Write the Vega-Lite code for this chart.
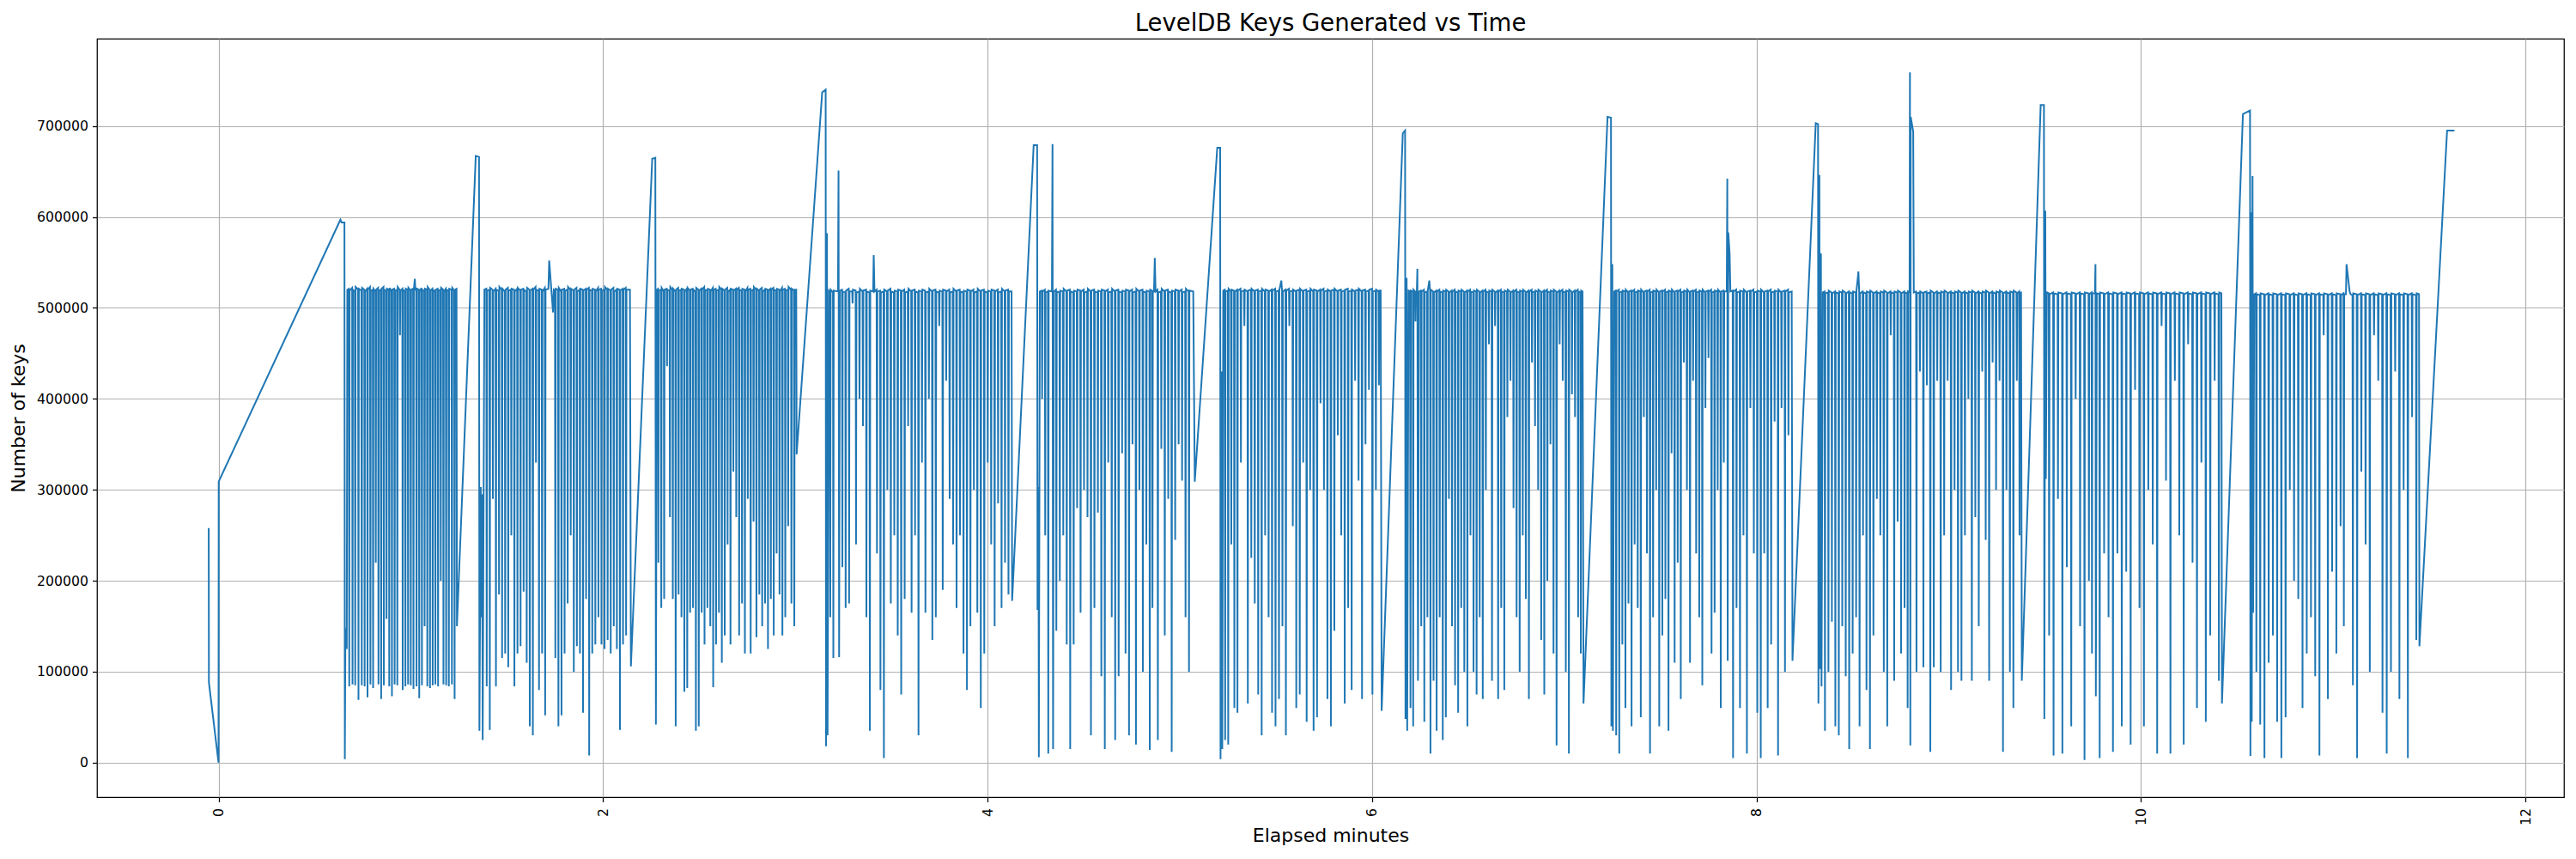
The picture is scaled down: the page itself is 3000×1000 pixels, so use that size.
{
"$schema": "https://vega.github.io/schema/vega-lite/v6.json",
"width": 2873, "height": 883,
"autosize": {"type": "none"},
"padding": {"left": 113, "top": 45, "right": 14, "bottom": 72},
"background": "white",
"title": {"text": "LevelDB Keys Generated vs Time", "font": "DejaVu Sans", "fontSize": 27.5, "fontWeight": "normal", "color": "black", "anchor": "middle", "baseline": "alphabetic", "offset": 9, "dy": 27},
"config": {
  "view": {"stroke": "black", "strokeWidth": 1.25},
  "axis": {"labelFont": "DejaVu Sans", "labelFontSize": 15.7, "labelColor": "black", "titleFont": "DejaVu Sans", "titleFontSize": 22, "titleFontWeight": "normal", "titleColor": "black", "tickColor": "black", "tickSize": 5.5, "tickWidth": 1.25, "domain": false, "grid": true, "gridColor": "#b0b0b0", "gridWidth": 1.2}
},
"data": {"values": [
{"t":-0.051,"k":258000},{"t":-0.050,"k":88000},{"t":0.000,"k":0},{"t":0.001,"k":309000},{"t":0.634,"k":597000},{"t":0.640,"k":594000},{"t":0.655,"k":594000},{"t":0.657,"k":4000},{"t":0.660,"k":148000},{"t":0.667,"k":125000},{"t":0.670,"k":520000},
{"t":0.678,"k":521000},{"t":0.680,"k":84000},{"t":0.682,"k":519000},
{"t":0.695,"k":522000},{"t":0.697,"k":86000},{"t":0.699,"k":520000},
{"t":0.709,"k":518000},{"t":0.711,"k":85000},{"t":0.713,"k":523000},
{"t":0.726,"k":520000},{"t":0.728,"k":69000},{"t":0.730,"k":521000},
{"t":0.743,"k":519000},{"t":0.745,"k":85000},{"t":0.747,"k":522000},
{"t":0.758,"k":520000},{"t":0.760,"k":84000},{"t":0.762,"k":518000},
{"t":0.773,"k":521000},{"t":0.775,"k":72000},{"t":0.777,"k":520000},
{"t":0.788,"k":523000},{"t":0.790,"k":86000},{"t":0.792,"k":519000},
{"t":0.802,"k":520000},{"t":0.804,"k":82000},{"t":0.806,"k":521000},
{"t":0.816,"k":518000},{"t":0.818,"k":220000},{"t":0.820,"k":520000},
{"t":0.830,"k":522000},{"t":0.832,"k":86000},{"t":0.834,"k":519000},
{"t":0.844,"k":520000},{"t":0.846,"k":70000},{"t":0.848,"k":521000},
{"t":0.858,"k":523000},{"t":0.860,"k":85000},{"t":0.862,"k":520000},
{"t":0.872,"k":519000},{"t":0.874,"k":158000},{"t":0.876,"k":521000},
{"t":0.886,"k":520000},{"t":0.888,"k":84000},{"t":0.890,"k":522000},
{"t":0.900,"k":518000},{"t":0.902,"k":73000},{"t":0.904,"k":520000},
{"t":0.914,"k":521000},{"t":0.916,"k":86000},{"t":0.918,"k":519000},
{"t":0.928,"k":520000},{"t":0.930,"k":85000},{"t":0.932,"k":523000},
{"t":0.942,"k":520000},{"t":0.944,"k":470000},{"t":0.946,"k":519000},
{"t":0.956,"k":521000},{"t":0.958,"k":80000},{"t":0.960,"k":520000},
{"t":0.970,"k":518000},{"t":0.972,"k":84000},{"t":0.974,"k":521000},
{"t":0.984,"k":520000},{"t":0.986,"k":86000},{"t":0.988,"k":522000},
{"t":0.998,"k":519000},{"t":1.000,"k":85000},{"t":1.002,"k":520000},
{"t":1.012,"k":521000},{"t":1.014,"k":81000},{"t":1.016,"k":520000},
{"t":1.021,"k":532000},{"t":1.024,"k":520000},
{"t":1.028,"k":519000},{"t":1.030,"k":84000},{"t":1.032,"k":521000},
{"t":1.042,"k":520000},{"t":1.044,"k":71000},{"t":1.046,"k":518000},
{"t":1.056,"k":522000},{"t":1.058,"k":85000},{"t":1.060,"k":520000},
{"t":1.070,"k":519000},{"t":1.072,"k":150000},{"t":1.074,"k":521000},
{"t":1.084,"k":520000},{"t":1.086,"k":84000},{"t":1.088,"k":523000},
{"t":1.098,"k":520000},{"t":1.100,"k":82000},{"t":1.102,"k":519000},
{"t":1.112,"k":521000},{"t":1.114,"k":85000},{"t":1.116,"k":520000},
{"t":1.126,"k":518000},{"t":1.128,"k":86000},{"t":1.130,"k":520000},
{"t":1.140,"k":521000},{"t":1.142,"k":84000},{"t":1.144,"k":519000},
{"t":1.154,"k":520000},{"t":1.156,"k":200000},{"t":1.158,"k":522000},
{"t":1.168,"k":520000},{"t":1.170,"k":86000},{"t":1.172,"k":518000},
{"t":1.182,"k":521000},{"t":1.184,"k":85000},{"t":1.186,"k":520000},
{"t":1.196,"k":519000},{"t":1.198,"k":84000},{"t":1.200,"k":521000},
{"t":1.212,"k":520000},{"t":1.214,"k":86000},{"t":1.216,"k":522000},
{"t":1.226,"k":519000},{"t":1.228,"k":70000},{"t":1.230,"k":520000},
{"t":1.238,"k":521000},{"t":1.240,"k":150000},{"t":1.338,"k":667000},{"t":1.355,"k":666000},{"t":1.357,"k":35000},{"t":1.364,"k":303000},{"t":1.366,"k":160000},{"t":1.371,"k":295000},{"t":1.374,"k":25000},{"t":1.383,"k":520000},
{"t":1.393,"k":521000},{"t":1.395,"k":84000},{"t":1.397,"k":519000},
{"t":1.409,"k":520000},{"t":1.411,"k":36000},{"t":1.413,"k":522000},
{"t":1.425,"k":520000},{"t":1.427,"k":290000},{"t":1.429,"k":518000},
{"t":1.441,"k":521000},{"t":1.443,"k":84000},{"t":1.445,"k":520000},
{"t":1.457,"k":519000},{"t":1.459,"k":185000},{"t":1.461,"k":523000},
{"t":1.473,"k":520000},{"t":1.475,"k":115000},{"t":1.477,"k":521000},
{"t":1.489,"k":518000},{"t":1.491,"k":120000},{"t":1.493,"k":520000},
{"t":1.505,"k":522000},{"t":1.507,"k":105000},{"t":1.509,"k":519000},
{"t":1.521,"k":520000},{"t":1.523,"k":250000},{"t":1.525,"k":521000},
{"t":1.537,"k":520000},{"t":1.539,"k":84000},{"t":1.541,"k":518000},
{"t":1.553,"k":521000},{"t":1.555,"k":120000},{"t":1.557,"k":522000},
{"t":1.569,"k":519000},{"t":1.571,"k":128000},{"t":1.573,"k":520000},
{"t":1.585,"k":521000},{"t":1.587,"k":188000},{"t":1.589,"k":520000},
{"t":1.601,"k":518000},{"t":1.603,"k":110000},{"t":1.605,"k":522000},
{"t":1.617,"k":520000},{"t":1.619,"k":40000},{"t":1.621,"k":519000},
{"t":1.633,"k":521000},{"t":1.635,"k":30000},{"t":1.637,"k":520000},
{"t":1.649,"k":523000},{"t":1.651,"k":330000},{"t":1.653,"k":520000},
{"t":1.665,"k":519000},{"t":1.667,"k":80000},{"t":1.669,"k":521000},
{"t":1.681,"k":520000},{"t":1.683,"k":120000},{"t":1.685,"k":518000},
{"t":1.697,"k":522000},{"t":1.699,"k":52000},{"t":1.701,"k":520000},
{"t":1.716,"k":521000},{"t":1.720,"k":552000},{"t":1.740,"k":495000},{"t":1.744,"k":520000},
{"t":1.750,"k":519000},{"t":1.752,"k":115000},{"t":1.754,"k":521000},
{"t":1.766,"k":520000},{"t":1.768,"k":40000},{"t":1.770,"k":522000},
{"t":1.782,"k":518000},{"t":1.784,"k":52000},{"t":1.786,"k":520000},
{"t":1.798,"k":521000},{"t":1.800,"k":120000},{"t":1.802,"k":519000},
{"t":1.814,"k":520000},{"t":1.816,"k":175000},{"t":1.818,"k":523000},
{"t":1.830,"k":520000},{"t":1.832,"k":250000},{"t":1.834,"k":521000},
{"t":1.846,"k":519000},{"t":1.848,"k":100000},{"t":1.850,"k":520000},
{"t":1.862,"k":522000},{"t":1.864,"k":128000},{"t":1.866,"k":518000},
{"t":1.878,"k":520000},{"t":1.880,"k":120000},{"t":1.882,"k":521000},
{"t":1.894,"k":520000},{"t":1.896,"k":55000},{"t":1.898,"k":519000},
{"t":1.910,"k":521000},{"t":1.912,"k":180000},{"t":1.914,"k":520000},
{"t":1.926,"k":522000},{"t":1.928,"k":8000},{"t":1.930,"k":520000},
{"t":1.942,"k":519000},{"t":1.944,"k":120000},{"t":1.946,"k":521000},
{"t":1.958,"k":520000},{"t":1.960,"k":130000},{"t":1.962,"k":518000},
{"t":1.974,"k":522000},{"t":1.976,"k":160000},{"t":1.978,"k":520000},
{"t":1.990,"k":521000},{"t":1.992,"k":130000},{"t":1.994,"k":519000},
{"t":2.006,"k":520000},{"t":2.008,"k":125000},{"t":2.010,"k":523000},
{"t":2.022,"k":520000},{"t":2.024,"k":135000},{"t":2.026,"k":521000},
{"t":2.038,"k":519000},{"t":2.040,"k":120000},{"t":2.042,"k":520000},
{"t":2.054,"k":522000},{"t":2.056,"k":150000},{"t":2.058,"k":518000},
{"t":2.070,"k":520000},{"t":2.072,"k":125000},{"t":2.074,"k":521000},
{"t":2.086,"k":520000},{"t":2.088,"k":36000},{"t":2.090,"k":519000},
{"t":2.102,"k":521000},{"t":2.104,"k":130000},{"t":2.106,"k":520000},
{"t":2.118,"k":522000},{"t":2.120,"k":140000},{"t":2.122,"k":520000},
{"t":2.140,"k":520000},{"t":2.145,"k":106000},{"t":2.256,"k":664000},{"t":2.272,"k":665000},{"t":2.275,"k":42000},{"t":2.280,"k":520000},
{"t":2.286,"k":521000},{"t":2.288,"k":220000},{"t":2.290,"k":519000},
{"t":2.301,"k":520000},{"t":2.303,"k":170000},{"t":2.305,"k":522000},
{"t":2.316,"k":518000},{"t":2.318,"k":180000},{"t":2.320,"k":520000},
{"t":2.331,"k":521000},{"t":2.333,"k":436000},{"t":2.335,"k":520000},
{"t":2.346,"k":519000},{"t":2.348,"k":270000},{"t":2.350,"k":523000},
{"t":2.361,"k":520000},{"t":2.363,"k":180000},{"t":2.365,"k":521000},
{"t":2.376,"k":518000},{"t":2.378,"k":40000},{"t":2.380,"k":520000},
{"t":2.391,"k":522000},{"t":2.393,"k":185000},{"t":2.395,"k":519000},
{"t":2.406,"k":520000},{"t":2.408,"k":160000},{"t":2.410,"k":521000},
{"t":2.421,"k":520000},{"t":2.423,"k":78000},{"t":2.425,"k":518000},
{"t":2.436,"k":521000},{"t":2.438,"k":82000},{"t":2.440,"k":522000},
{"t":2.451,"k":519000},{"t":2.453,"k":165000},{"t":2.455,"k":520000},
{"t":2.466,"k":521000},{"t":2.468,"k":170000},{"t":2.470,"k":520000},
{"t":2.481,"k":518000},{"t":2.483,"k":35000},{"t":2.485,"k":522000},
{"t":2.496,"k":520000},{"t":2.498,"k":40000},{"t":2.500,"k":519000},
{"t":2.511,"k":521000},{"t":2.513,"k":165000},{"t":2.515,"k":520000},
{"t":2.526,"k":523000},{"t":2.528,"k":130000},{"t":2.530,"k":520000},
{"t":2.541,"k":519000},{"t":2.543,"k":170000},{"t":2.545,"k":521000},
{"t":2.556,"k":520000},{"t":2.558,"k":150000},{"t":2.560,"k":518000},
{"t":2.571,"k":522000},{"t":2.573,"k":83000},{"t":2.575,"k":520000},
{"t":2.586,"k":521000},{"t":2.588,"k":130000},{"t":2.590,"k":519000},
{"t":2.601,"k":520000},{"t":2.603,"k":165000},{"t":2.605,"k":523000},
{"t":2.616,"k":520000},{"t":2.618,"k":110000},{"t":2.620,"k":521000},
{"t":2.631,"k":519000},{"t":2.633,"k":140000},{"t":2.635,"k":520000},
{"t":2.646,"k":522000},{"t":2.648,"k":240000},{"t":2.650,"k":518000},
{"t":2.661,"k":520000},{"t":2.663,"k":130000},{"t":2.665,"k":521000},
{"t":2.676,"k":520000},{"t":2.678,"k":320000},{"t":2.680,"k":519000},
{"t":2.691,"k":521000},{"t":2.693,"k":270000},{"t":2.695,"k":520000},
{"t":2.706,"k":522000},{"t":2.708,"k":140000},{"t":2.710,"k":520000},
{"t":2.721,"k":519000},{"t":2.723,"k":175000},{"t":2.725,"k":521000},
{"t":2.736,"k":520000},{"t":2.738,"k":120000},{"t":2.740,"k":518000},
{"t":2.751,"k":522000},{"t":2.753,"k":290000},{"t":2.755,"k":520000},
{"t":2.766,"k":521000},{"t":2.768,"k":120000},{"t":2.770,"k":519000},
{"t":2.781,"k":520000},{"t":2.783,"k":265000},{"t":2.785,"k":523000},
{"t":2.796,"k":520000},{"t":2.798,"k":138000},{"t":2.800,"k":521000},
{"t":2.811,"k":519000},{"t":2.813,"k":185000},{"t":2.815,"k":520000},
{"t":2.826,"k":522000},{"t":2.828,"k":150000},{"t":2.830,"k":518000},
{"t":2.841,"k":520000},{"t":2.843,"k":175000},{"t":2.845,"k":521000},
{"t":2.856,"k":520000},{"t":2.858,"k":125000},{"t":2.860,"k":519000},
{"t":2.871,"k":521000},{"t":2.873,"k":180000},{"t":2.875,"k":520000},
{"t":2.886,"k":522000},{"t":2.888,"k":140000},{"t":2.890,"k":520000},
{"t":2.901,"k":519000},{"t":2.903,"k":230000},{"t":2.905,"k":521000},
{"t":2.916,"k":520000},{"t":2.918,"k":185000},{"t":2.920,"k":518000},
{"t":2.931,"k":522000},{"t":2.933,"k":140000},{"t":2.935,"k":520000},
{"t":2.946,"k":521000},{"t":2.948,"k":160000},{"t":2.950,"k":519000},
{"t":2.961,"k":520000},{"t":2.963,"k":260000},{"t":2.965,"k":523000},
{"t":2.978,"k":520000},{"t":2.980,"k":175000},{"t":2.982,"k":521000},
{"t":2.993,"k":519000},{"t":2.995,"k":150000},{"t":2.997,"k":520000},
{"t":3.005,"k":520000},{"t":3.007,"k":339000},{"t":3.140,"k":737000},{"t":3.158,"k":740000},{"t":3.160,"k":18000},{"t":3.165,"k":582000},{"t":3.168,"k":30000},{"t":3.175,"k":519000},
{"t":3.180,"k":518000},{"t":3.182,"k":160000},{"t":3.184,"k":520000},
{"t":3.196,"k":517000},{"t":3.198,"k":115000},{"t":3.200,"k":519000},
{"t":3.222,"k":518000},{"t":3.225,"k":651000},{"t":3.228,"k":116000},{"t":3.232,"k":519000},
{"t":3.243,"k":520000},{"t":3.245,"k":215000},{"t":3.247,"k":518000},
{"t":3.260,"k":517000},{"t":3.262,"k":170000},{"t":3.264,"k":519000},
{"t":3.278,"k":521000},{"t":3.280,"k":175000},{"t":3.282,"k":518000},
{"t":3.296,"k":518000},{"t":3.298,"k":505000},{"t":3.300,"k":520000},
{"t":3.314,"k":519000},{"t":3.316,"k":240000},{"t":3.318,"k":517000},
{"t":3.332,"k":518000},{"t":3.334,"k":400000},{"t":3.336,"k":521000},
{"t":3.350,"k":518000},{"t":3.352,"k":370000},{"t":3.354,"k":519000},
{"t":3.368,"k":520000},{"t":3.370,"k":160000},{"t":3.372,"k":518000},
{"t":3.386,"k":517000},{"t":3.388,"k":35000},{"t":3.390,"k":519000},
{"t":3.405,"k":518000},{"t":3.408,"k":558000},{"t":3.412,"k":518000},
{"t":3.423,"k":520000},{"t":3.425,"k":230000},{"t":3.427,"k":518000},
{"t":3.441,"k":519000},{"t":3.443,"k":80000},{"t":3.445,"k":517000},
{"t":3.459,"k":518000},{"t":3.461,"k":5000},{"t":3.463,"k":520000},
{"t":3.477,"k":518000},{"t":3.479,"k":300000},{"t":3.481,"k":519000},
{"t":3.495,"k":521000},{"t":3.497,"k":175000},{"t":3.499,"k":518000},
{"t":3.513,"k":517000},{"t":3.515,"k":250000},{"t":3.517,"k":519000},
{"t":3.531,"k":518000},{"t":3.533,"k":140000},{"t":3.535,"k":520000},
{"t":3.549,"k":519000},{"t":3.551,"k":75000},{"t":3.553,"k":518000},
{"t":3.567,"k":520000},{"t":3.569,"k":180000},{"t":3.571,"k":517000},
{"t":3.585,"k":518000},{"t":3.587,"k":370000},{"t":3.589,"k":521000},
{"t":3.603,"k":518000},{"t":3.605,"k":165000},{"t":3.607,"k":519000},
{"t":3.621,"k":520000},{"t":3.623,"k":250000},{"t":3.625,"k":518000},
{"t":3.639,"k":517000},{"t":3.641,"k":30000},{"t":3.643,"k":519000},
{"t":3.657,"k":518000},{"t":3.659,"k":330000},{"t":3.661,"k":520000},
{"t":3.675,"k":519000},{"t":3.677,"k":165000},{"t":3.679,"k":517000},
{"t":3.693,"k":518000},{"t":3.695,"k":400000},{"t":3.697,"k":521000},
{"t":3.711,"k":518000},{"t":3.713,"k":135000},{"t":3.715,"k":519000},
{"t":3.729,"k":520000},{"t":3.731,"k":160000},{"t":3.733,"k":518000},
{"t":3.747,"k":517000},{"t":3.749,"k":480000},{"t":3.751,"k":519000},
{"t":3.765,"k":518000},{"t":3.767,"k":190000},{"t":3.769,"k":520000},
{"t":3.783,"k":519000},{"t":3.785,"k":420000},{"t":3.787,"k":518000},
{"t":3.801,"k":520000},{"t":3.803,"k":290000},{"t":3.805,"k":517000},
{"t":3.819,"k":518000},{"t":3.821,"k":240000},{"t":3.823,"k":521000},
{"t":3.837,"k":518000},{"t":3.839,"k":170000},{"t":3.841,"k":519000},
{"t":3.855,"k":520000},{"t":3.857,"k":250000},{"t":3.859,"k":518000},
{"t":3.873,"k":517000},{"t":3.875,"k":120000},{"t":3.877,"k":519000},
{"t":3.891,"k":518000},{"t":3.893,"k":80000},{"t":3.895,"k":520000},
{"t":3.909,"k":519000},{"t":3.911,"k":150000},{"t":3.913,"k":518000},
{"t":3.927,"k":520000},{"t":3.929,"k":300000},{"t":3.931,"k":517000},
{"t":3.945,"k":518000},{"t":3.947,"k":165000},{"t":3.949,"k":521000},
{"t":3.963,"k":518000},{"t":3.965,"k":60000},{"t":3.967,"k":519000},
{"t":3.981,"k":520000},{"t":3.983,"k":120000},{"t":3.985,"k":518000},
{"t":3.999,"k":517000},{"t":4.001,"k":330000},{"t":4.003,"k":519000},
{"t":4.017,"k":518000},{"t":4.019,"k":240000},{"t":4.021,"k":520000},
{"t":4.035,"k":519000},{"t":4.037,"k":150000},{"t":4.039,"k":518000},
{"t":4.053,"k":520000},{"t":4.055,"k":285000},{"t":4.057,"k":517000},
{"t":4.071,"k":518000},{"t":4.073,"k":170000},{"t":4.075,"k":521000},
{"t":4.089,"k":518000},{"t":4.091,"k":220000},{"t":4.093,"k":519000},
{"t":4.107,"k":520000},{"t":4.109,"k":185000},{"t":4.111,"k":518000},
{"t":4.125,"k":518000},{"t":4.128,"k":178000},{"t":4.240,"k":679000},{"t":4.258,"k":679000},{"t":4.260,"k":168000},{"t":4.265,"k":303000},{"t":4.267,"k":6000},{"t":4.272,"k":518000},
{"t":4.282,"k":519000},{"t":4.284,"k":400000},{"t":4.286,"k":518000},
{"t":4.298,"k":520000},{"t":4.300,"k":250000},{"t":4.302,"k":517000},
{"t":4.314,"k":518000},{"t":4.316,"k":10000},{"t":4.318,"k":519000},
{"t":4.335,"k":518000},{"t":4.338,"k":680000},{"t":4.341,"k":15000},{"t":4.345,"k":518000},
{"t":4.356,"k":520000},{"t":4.358,"k":145000},{"t":4.360,"k":518000},
{"t":4.374,"k":517000},{"t":4.376,"k":200000},{"t":4.378,"k":519000},
{"t":4.392,"k":518000},{"t":4.394,"k":250000},{"t":4.396,"k":521000},
{"t":4.410,"k":518000},{"t":4.412,"k":130000},{"t":4.414,"k":519000},
{"t":4.428,"k":520000},{"t":4.430,"k":15000},{"t":4.432,"k":518000},
{"t":4.446,"k":517000},{"t":4.448,"k":130000},{"t":4.450,"k":519000},
{"t":4.464,"k":518000},{"t":4.466,"k":280000},{"t":4.468,"k":520000},
{"t":4.482,"k":519000},{"t":4.484,"k":165000},{"t":4.486,"k":518000},
{"t":4.500,"k":520000},{"t":4.502,"k":300000},{"t":4.504,"k":517000},
{"t":4.518,"k":518000},{"t":4.520,"k":270000},{"t":4.522,"k":521000},
{"t":4.536,"k":518000},{"t":4.538,"k":30000},{"t":4.540,"k":519000},
{"t":4.554,"k":520000},{"t":4.556,"k":170000},{"t":4.558,"k":518000},
{"t":4.572,"k":517000},{"t":4.574,"k":275000},{"t":4.576,"k":519000},
{"t":4.590,"k":518000},{"t":4.592,"k":95000},{"t":4.594,"k":520000},
{"t":4.608,"k":519000},{"t":4.610,"k":15000},{"t":4.612,"k":518000},
{"t":4.626,"k":520000},{"t":4.628,"k":330000},{"t":4.630,"k":517000},
{"t":4.644,"k":518000},{"t":4.646,"k":160000},{"t":4.648,"k":521000},
{"t":4.662,"k":518000},{"t":4.664,"k":25000},{"t":4.666,"k":519000},
{"t":4.680,"k":520000},{"t":4.682,"k":95000},{"t":4.684,"k":518000},
{"t":4.698,"k":517000},{"t":4.700,"k":340000},{"t":4.702,"k":519000},
{"t":4.716,"k":518000},{"t":4.718,"k":120000},{"t":4.720,"k":520000},
{"t":4.734,"k":519000},{"t":4.736,"k":30000},{"t":4.738,"k":518000},
{"t":4.752,"k":520000},{"t":4.754,"k":350000},{"t":4.756,"k":517000},
{"t":4.770,"k":518000},{"t":4.772,"k":20000},{"t":4.774,"k":521000},
{"t":4.788,"k":518000},{"t":4.790,"k":300000},{"t":4.792,"k":519000},
{"t":4.806,"k":520000},{"t":4.808,"k":100000},{"t":4.810,"k":518000},
{"t":4.824,"k":517000},{"t":4.826,"k":240000},{"t":4.828,"k":519000},
{"t":4.842,"k":518000},{"t":4.844,"k":14000},{"t":4.846,"k":520000},
{"t":4.856,"k":519000},{"t":4.858,"k":170000},{"t":4.860,"k":518000},
{"t":4.866,"k":518000},{"t":4.870,"k":555000},{"t":4.874,"k":518000},
{"t":4.884,"k":520000},{"t":4.886,"k":25000},{"t":4.888,"k":517000},
{"t":4.902,"k":518000},{"t":4.904,"k":345000},{"t":4.906,"k":521000},
{"t":4.920,"k":518000},{"t":4.922,"k":140000},{"t":4.924,"k":519000},
{"t":4.938,"k":520000},{"t":4.940,"k":290000},{"t":4.942,"k":518000},
{"t":4.956,"k":517000},{"t":4.958,"k":12000},{"t":4.960,"k":519000},
{"t":4.974,"k":518000},{"t":4.976,"k":245000},{"t":4.978,"k":520000},
{"t":4.992,"k":519000},{"t":4.994,"k":350000},{"t":4.996,"k":518000},
{"t":5.010,"k":520000},{"t":5.012,"k":310000},{"t":5.014,"k":517000},
{"t":5.028,"k":518000},{"t":5.030,"k":160000},{"t":5.032,"k":521000},
{"t":5.046,"k":518000},{"t":5.048,"k":100000},{"t":5.050,"k":519000},
{"t":5.070,"k":518000},{"t":5.078,"k":309000},{"t":5.195,"k":676000},{"t":5.210,"k":676000},{"t":5.212,"k":4000},{"t":5.218,"k":430000},{"t":5.221,"k":15000},{"t":5.226,"k":519000},
{"t":5.234,"k":520000},{"t":5.236,"k":25000},{"t":5.238,"k":518000},
{"t":5.250,"k":519000},{"t":5.252,"k":20000},{"t":5.254,"k":521000},
{"t":5.266,"k":518000},{"t":5.268,"k":240000},{"t":5.270,"k":520000},
{"t":5.282,"k":519000},{"t":5.284,"k":60000},{"t":5.286,"k":518000},
{"t":5.298,"k":520000},{"t":5.300,"k":55000},{"t":5.302,"k":519000},
{"t":5.316,"k":521000},{"t":5.318,"k":330000},{"t":5.320,"k":518000},
{"t":5.334,"k":519000},{"t":5.336,"k":480000},{"t":5.338,"k":520000},
{"t":5.352,"k":518000},{"t":5.354,"k":65000},{"t":5.356,"k":519000},
{"t":5.370,"k":520000},{"t":5.372,"k":225000},{"t":5.374,"k":521000},
{"t":5.388,"k":518000},{"t":5.390,"k":175000},{"t":5.392,"k":519000},
{"t":5.406,"k":520000},{"t":5.408,"k":75000},{"t":5.410,"k":518000},
{"t":5.424,"k":519000},{"t":5.426,"k":30000},{"t":5.428,"k":521000},
{"t":5.442,"k":518000},{"t":5.444,"k":250000},{"t":5.446,"k":520000},
{"t":5.460,"k":519000},{"t":5.462,"k":160000},{"t":5.464,"k":518000},
{"t":5.478,"k":520000},{"t":5.480,"k":55000},{"t":5.482,"k":519000},
{"t":5.496,"k":521000},{"t":5.498,"k":40000},{"t":5.500,"k":518000},
{"t":5.514,"k":519000},{"t":5.516,"k":70000},{"t":5.518,"k":520000},
{"t":5.528,"k":530000},{"t":5.532,"k":519000},{"t":5.534,"k":150000},{"t":5.536,"k":518000},
{"t":5.550,"k":520000},{"t":5.552,"k":30000},{"t":5.554,"k":519000},
{"t":5.568,"k":521000},{"t":5.570,"k":480000},{"t":5.572,"k":518000},
{"t":5.586,"k":519000},{"t":5.588,"k":260000},{"t":5.590,"k":520000},
{"t":5.604,"k":518000},{"t":5.606,"k":60000},{"t":5.608,"k":519000},
{"t":5.622,"k":520000},{"t":5.624,"k":75000},{"t":5.626,"k":521000},
{"t":5.640,"k":518000},{"t":5.642,"k":330000},{"t":5.644,"k":519000},
{"t":5.658,"k":520000},{"t":5.660,"k":45000},{"t":5.662,"k":518000},
{"t":5.676,"k":519000},{"t":5.678,"k":300000},{"t":5.680,"k":521000},
{"t":5.694,"k":518000},{"t":5.696,"k":35000},{"t":5.698,"k":520000},
{"t":5.712,"k":519000},{"t":5.714,"k":50000},{"t":5.716,"k":518000},
{"t":5.730,"k":520000},{"t":5.732,"k":395000},{"t":5.734,"k":519000},
{"t":5.748,"k":521000},{"t":5.750,"k":300000},{"t":5.752,"k":518000},
{"t":5.766,"k":519000},{"t":5.768,"k":70000},{"t":5.770,"k":520000},
{"t":5.784,"k":518000},{"t":5.786,"k":40000},{"t":5.788,"k":519000},
{"t":5.802,"k":520000},{"t":5.804,"k":145000},{"t":5.806,"k":521000},
{"t":5.820,"k":518000},{"t":5.822,"k":360000},{"t":5.824,"k":519000},
{"t":5.838,"k":520000},{"t":5.840,"k":250000},{"t":5.842,"k":518000},
{"t":5.856,"k":519000},{"t":5.858,"k":65000},{"t":5.860,"k":520000},
{"t":5.874,"k":521000},{"t":5.876,"k":170000},{"t":5.878,"k":518000},
{"t":5.892,"k":519000},{"t":5.894,"k":80000},{"t":5.896,"k":520000},
{"t":5.910,"k":518000},{"t":5.912,"k":420000},{"t":5.914,"k":519000},
{"t":5.928,"k":520000},{"t":5.930,"k":310000},{"t":5.932,"k":521000},
{"t":5.946,"k":518000},{"t":5.948,"k":70000},{"t":5.950,"k":519000},
{"t":5.964,"k":520000},{"t":5.966,"k":350000},{"t":5.968,"k":518000},
{"t":5.982,"k":519000},{"t":5.984,"k":410000},{"t":5.986,"k":520000},
{"t":6.000,"k":521000},{"t":6.002,"k":75000},{"t":6.004,"k":518000},
{"t":6.018,"k":519000},{"t":6.020,"k":300000},{"t":6.022,"k":520000},
{"t":6.034,"k":518000},{"t":6.036,"k":415000},{"t":6.038,"k":519000},
{"t":6.045,"k":519000},{"t":6.050,"k":57000},{"t":6.160,"k":692000},{"t":6.172,"k":695000},{"t":6.174,"k":48000},{"t":6.180,"k":533000},{"t":6.183,"k":35000},{"t":6.190,"k":519000},
{"t":6.198,"k":518000},{"t":6.200,"k":60000},{"t":6.202,"k":519000},
{"t":6.212,"k":518000},{"t":6.214,"k":40000},{"t":6.216,"k":520000},
{"t":6.224,"k":518000},{"t":6.226,"k":485000},{"t":6.228,"k":517000},
{"t":6.233,"k":518000},{"t":6.236,"k":543000},{"t":6.239,"k":90000},{"t":6.244,"k":518000},
{"t":6.254,"k":519000},{"t":6.256,"k":150000},{"t":6.258,"k":518000},
{"t":6.270,"k":520000},{"t":6.272,"k":45000},{"t":6.274,"k":517000},
{"t":6.286,"k":518000},{"t":6.288,"k":160000},{"t":6.290,"k":519000},
{"t":6.298,"k":530000},{"t":6.302,"k":518000},{"t":6.304,"k":10000},{"t":6.306,"k":520000},
{"t":6.318,"k":518000},{"t":6.320,"k":90000},{"t":6.322,"k":517000},
{"t":6.334,"k":519000},{"t":6.336,"k":35000},{"t":6.338,"k":518000},
{"t":6.350,"k":520000},{"t":6.352,"k":160000},{"t":6.354,"k":518000},
{"t":6.366,"k":517000},{"t":6.368,"k":25000},{"t":6.370,"k":519000},
{"t":6.382,"k":518000},{"t":6.384,"k":50000},{"t":6.386,"k":520000},
{"t":6.398,"k":518000},{"t":6.400,"k":290000},{"t":6.402,"k":517000},
{"t":6.414,"k":519000},{"t":6.416,"k":150000},{"t":6.418,"k":518000},
{"t":6.430,"k":520000},{"t":6.432,"k":85000},{"t":6.434,"k":518000},
{"t":6.446,"k":517000},{"t":6.448,"k":55000},{"t":6.450,"k":519000},
{"t":6.462,"k":518000},{"t":6.464,"k":170000},{"t":6.466,"k":520000},
{"t":6.478,"k":518000},{"t":6.480,"k":100000},{"t":6.482,"k":517000},
{"t":6.494,"k":519000},{"t":6.496,"k":40000},{"t":6.498,"k":518000},
{"t":6.510,"k":520000},{"t":6.512,"k":250000},{"t":6.514,"k":518000},
{"t":6.526,"k":517000},{"t":6.528,"k":100000},{"t":6.530,"k":519000},
{"t":6.542,"k":518000},{"t":6.544,"k":75000},{"t":6.546,"k":520000},
{"t":6.558,"k":518000},{"t":6.560,"k":160000},{"t":6.562,"k":517000},
{"t":6.574,"k":519000},{"t":6.576,"k":70000},{"t":6.578,"k":518000},
{"t":6.590,"k":520000},{"t":6.592,"k":300000},{"t":6.594,"k":518000},
{"t":6.606,"k":517000},{"t":6.608,"k":460000},{"t":6.610,"k":519000},
{"t":6.622,"k":518000},{"t":6.624,"k":90000},{"t":6.626,"k":520000},
{"t":6.638,"k":518000},{"t":6.640,"k":480000},{"t":6.642,"k":517000},
{"t":6.654,"k":519000},{"t":6.656,"k":70000},{"t":6.658,"k":518000},
{"t":6.670,"k":520000},{"t":6.672,"k":170000},{"t":6.674,"k":518000},
{"t":6.686,"k":517000},{"t":6.688,"k":80000},{"t":6.690,"k":519000},
{"t":6.702,"k":518000},{"t":6.704,"k":380000},{"t":6.706,"k":520000},
{"t":6.718,"k":518000},{"t":6.720,"k":420000},{"t":6.722,"k":517000},
{"t":6.734,"k":519000},{"t":6.736,"k":280000},{"t":6.738,"k":518000},
{"t":6.750,"k":520000},{"t":6.752,"k":160000},{"t":6.754,"k":518000},
{"t":6.766,"k":517000},{"t":6.768,"k":100000},{"t":6.770,"k":519000},
{"t":6.782,"k":518000},{"t":6.784,"k":250000},{"t":6.786,"k":520000},
{"t":6.798,"k":518000},{"t":6.800,"k":180000},{"t":6.802,"k":517000},
{"t":6.814,"k":519000},{"t":6.816,"k":70000},{"t":6.818,"k":518000},
{"t":6.830,"k":520000},{"t":6.832,"k":440000},{"t":6.834,"k":518000},
{"t":6.846,"k":517000},{"t":6.848,"k":370000},{"t":6.850,"k":519000},
{"t":6.862,"k":518000},{"t":6.864,"k":300000},{"t":6.866,"k":520000},
{"t":6.878,"k":518000},{"t":6.880,"k":135000},{"t":6.882,"k":517000},
{"t":6.894,"k":519000},{"t":6.896,"k":75000},{"t":6.898,"k":518000},
{"t":6.910,"k":520000},{"t":6.912,"k":200000},{"t":6.914,"k":518000},
{"t":6.926,"k":517000},{"t":6.928,"k":350000},{"t":6.930,"k":519000},
{"t":6.942,"k":518000},{"t":6.944,"k":120000},{"t":6.946,"k":520000},
{"t":6.958,"k":518000},{"t":6.960,"k":19000},{"t":6.962,"k":517000},
{"t":6.974,"k":519000},{"t":6.976,"k":460000},{"t":6.978,"k":518000},
{"t":6.990,"k":520000},{"t":6.992,"k":420000},{"t":6.994,"k":518000},
{"t":7.006,"k":517000},{"t":7.008,"k":100000},{"t":7.010,"k":519000},
{"t":7.022,"k":518000},{"t":7.024,"k":10000},{"t":7.026,"k":520000},
{"t":7.038,"k":518000},{"t":7.040,"k":405000},{"t":7.042,"k":517000},
{"t":7.054,"k":519000},{"t":7.056,"k":380000},{"t":7.058,"k":518000},
{"t":7.070,"k":520000},{"t":7.072,"k":160000},{"t":7.074,"k":518000},
{"t":7.084,"k":517000},{"t":7.086,"k":120000},{"t":7.088,"k":519000},
{"t":7.095,"k":518000},{"t":7.100,"k":65000},{"t":7.225,"k":710000},{"t":7.243,"k":709000},{"t":7.245,"k":40000},{"t":7.250,"k":548000},{"t":7.253,"k":35000},{"t":7.260,"k":518000},
{"t":7.268,"k":519000},{"t":7.270,"k":30000},{"t":7.272,"k":518000},
{"t":7.284,"k":520000},{"t":7.286,"k":10000},{"t":7.288,"k":517000},
{"t":7.300,"k":518000},{"t":7.302,"k":130000},{"t":7.304,"k":519000},
{"t":7.316,"k":518000},{"t":7.318,"k":60000},{"t":7.320,"k":520000},
{"t":7.332,"k":517000},{"t":7.334,"k":175000},{"t":7.336,"k":518000},
{"t":7.348,"k":519000},{"t":7.350,"k":40000},{"t":7.352,"k":518000},
{"t":7.364,"k":520000},{"t":7.366,"k":240000},{"t":7.368,"k":517000},
{"t":7.380,"k":518000},{"t":7.382,"k":170000},{"t":7.384,"k":519000},
{"t":7.396,"k":518000},{"t":7.398,"k":50000},{"t":7.400,"k":520000},
{"t":7.412,"k":517000},{"t":7.414,"k":380000},{"t":7.416,"k":518000},
{"t":7.428,"k":519000},{"t":7.430,"k":230000},{"t":7.432,"k":518000},
{"t":7.444,"k":520000},{"t":7.446,"k":10000},{"t":7.448,"k":517000},
{"t":7.460,"k":518000},{"t":7.462,"k":160000},{"t":7.464,"k":519000},
{"t":7.476,"k":518000},{"t":7.478,"k":300000},{"t":7.480,"k":520000},
{"t":7.492,"k":517000},{"t":7.494,"k":40000},{"t":7.496,"k":518000},
{"t":7.508,"k":519000},{"t":7.510,"k":140000},{"t":7.512,"k":518000},
{"t":7.524,"k":520000},{"t":7.526,"k":180000},{"t":7.528,"k":517000},
{"t":7.540,"k":518000},{"t":7.542,"k":35000},{"t":7.544,"k":519000},
{"t":7.556,"k":518000},{"t":7.558,"k":340000},{"t":7.560,"k":520000},
{"t":7.572,"k":517000},{"t":7.574,"k":110000},{"t":7.576,"k":518000},
{"t":7.588,"k":519000},{"t":7.590,"k":220000},{"t":7.592,"k":518000},
{"t":7.604,"k":520000},{"t":7.606,"k":70000},{"t":7.608,"k":517000},
{"t":7.620,"k":518000},{"t":7.622,"k":440000},{"t":7.624,"k":519000},
{"t":7.636,"k":518000},{"t":7.638,"k":300000},{"t":7.640,"k":520000},
{"t":7.652,"k":517000},{"t":7.654,"k":110000},{"t":7.656,"k":518000},
{"t":7.668,"k":519000},{"t":7.670,"k":420000},{"t":7.672,"k":518000},
{"t":7.684,"k":520000},{"t":7.686,"k":230000},{"t":7.688,"k":517000},
{"t":7.700,"k":518000},{"t":7.702,"k":160000},{"t":7.704,"k":519000},
{"t":7.716,"k":518000},{"t":7.718,"k":85000},{"t":7.720,"k":520000},
{"t":7.732,"k":517000},{"t":7.734,"k":390000},{"t":7.736,"k":518000},
{"t":7.748,"k":519000},{"t":7.750,"k":445000},{"t":7.752,"k":518000},
{"t":7.764,"k":520000},{"t":7.766,"k":120000},{"t":7.768,"k":517000},
{"t":7.780,"k":518000},{"t":7.782,"k":165000},{"t":7.784,"k":519000},
{"t":7.796,"k":518000},{"t":7.798,"k":300000},{"t":7.800,"k":520000},
{"t":7.812,"k":517000},{"t":7.814,"k":60000},{"t":7.816,"k":518000},
{"t":7.828,"k":519000},{"t":7.830,"k":330000},{"t":7.832,"k":518000},
{"t":7.845,"k":518000},{"t":7.848,"k":642000},{"t":7.850,"k":112000},{"t":7.853,"k":583000},{"t":7.860,"k":560000},{"t":7.864,"k":518000},
{"t":7.876,"k":519000},{"t":7.878,"k":5000},{"t":7.880,"k":518000},
{"t":7.894,"k":520000},{"t":7.896,"k":170000},{"t":7.898,"k":517000},
{"t":7.912,"k":518000},{"t":7.914,"k":60000},{"t":7.916,"k":519000},
{"t":7.930,"k":518000},{"t":7.932,"k":250000},{"t":7.934,"k":520000},
{"t":7.948,"k":517000},{"t":7.950,"k":10000},{"t":7.952,"k":518000},
{"t":7.966,"k":519000},{"t":7.968,"k":390000},{"t":7.970,"k":518000},
{"t":7.984,"k":520000},{"t":7.986,"k":230000},{"t":7.988,"k":517000},
{"t":8.002,"k":518000},{"t":8.004,"k":55000},{"t":8.006,"k":519000},
{"t":8.020,"k":518000},{"t":8.022,"k":5000},{"t":8.024,"k":520000},
{"t":8.038,"k":517000},{"t":8.040,"k":230000},{"t":8.042,"k":518000},
{"t":8.056,"k":519000},{"t":8.058,"k":60000},{"t":8.060,"k":518000},
{"t":8.074,"k":520000},{"t":8.076,"k":130000},{"t":8.078,"k":517000},
{"t":8.092,"k":518000},{"t":8.094,"k":375000},{"t":8.096,"k":519000},
{"t":8.110,"k":518000},{"t":8.112,"k":8000},{"t":8.114,"k":520000},
{"t":8.128,"k":517000},{"t":8.130,"k":390000},{"t":8.132,"k":518000},
{"t":8.146,"k":519000},{"t":8.148,"k":100000},{"t":8.150,"k":518000},
{"t":8.164,"k":520000},{"t":8.166,"k":360000},{"t":8.168,"k":517000},
{"t":8.183,"k":518000},{"t":8.187,"k":112000},{"t":8.308,"k":703000},{"t":8.320,"k":702000},{"t":8.322,"k":65000},{"t":8.327,"k":646000},{"t":8.330,"k":103000},{"t":8.335,"k":560000},{"t":8.338,"k":84000},{"t":8.345,"k":517000},
{"t":8.354,"k":518000},{"t":8.356,"k":35000},{"t":8.358,"k":516000},
{"t":8.372,"k":517000},{"t":8.374,"k":100000},{"t":8.376,"k":519000},
{"t":8.390,"k":517000},{"t":8.392,"k":155000},{"t":8.394,"k":516000},
{"t":8.408,"k":518000},{"t":8.410,"k":40000},{"t":8.412,"k":517000},
{"t":8.426,"k":516000},{"t":8.428,"k":30000},{"t":8.430,"k":518000},
{"t":8.444,"k":517000},{"t":8.446,"k":150000},{"t":8.448,"k":519000},
{"t":8.462,"k":517000},{"t":8.464,"k":95000},{"t":8.466,"k":516000},
{"t":8.480,"k":518000},{"t":8.482,"k":15000},{"t":8.484,"k":517000},
{"t":8.498,"k":516000},{"t":8.500,"k":120000},{"t":8.502,"k":518000},
{"t":8.516,"k":517000},{"t":8.518,"k":160000},{"t":8.520,"k":519000},
{"t":8.530,"k":540000},{"t":8.534,"k":517000},{"t":8.536,"k":40000},{"t":8.538,"k":516000},
{"t":8.552,"k":518000},{"t":8.554,"k":250000},{"t":8.556,"k":517000},
{"t":8.570,"k":516000},{"t":8.572,"k":80000},{"t":8.574,"k":518000},
{"t":8.588,"k":517000},{"t":8.590,"k":15000},{"t":8.592,"k":519000},
{"t":8.606,"k":517000},{"t":8.608,"k":140000},{"t":8.610,"k":516000},
{"t":8.624,"k":518000},{"t":8.626,"k":290000},{"t":8.628,"k":517000},
{"t":8.642,"k":516000},{"t":8.644,"k":250000},{"t":8.646,"k":518000},
{"t":8.660,"k":517000},{"t":8.662,"k":100000},{"t":8.664,"k":519000},
{"t":8.678,"k":517000},{"t":8.680,"k":40000},{"t":8.682,"k":516000},
{"t":8.696,"k":518000},{"t":8.698,"k":470000},{"t":8.700,"k":517000},
{"t":8.714,"k":516000},{"t":8.716,"k":90000},{"t":8.718,"k":518000},
{"t":8.732,"k":517000},{"t":8.734,"k":265000},{"t":8.736,"k":519000},
{"t":8.750,"k":517000},{"t":8.752,"k":120000},{"t":8.754,"k":516000},
{"t":8.768,"k":518000},{"t":8.770,"k":170000},{"t":8.772,"k":517000},
{"t":8.784,"k":516000},{"t":8.786,"k":60000},{"t":8.788,"k":518000},
{"t":8.796,"k":517000},{"t":8.798,"k":759000},{"t":8.800,"k":19000},{"t":8.802,"k":710000},{"t":8.815,"k":694000},{"t":8.818,"k":517000},
{"t":8.830,"k":518000},{"t":8.832,"k":100000},{"t":8.834,"k":516000},
{"t":8.848,"k":517000},{"t":8.850,"k":430000},{"t":8.852,"k":518000},
{"t":8.866,"k":516000},{"t":8.868,"k":105000},{"t":8.870,"k":517000},
{"t":8.884,"k":518000},{"t":8.886,"k":415000},{"t":8.888,"k":516000},
{"t":8.902,"k":517000},{"t":8.904,"k":12000},{"t":8.906,"k":519000},
{"t":8.920,"k":517000},{"t":8.922,"k":105000},{"t":8.924,"k":516000},
{"t":8.938,"k":518000},{"t":8.940,"k":420000},{"t":8.942,"k":517000},
{"t":8.956,"k":516000},{"t":8.958,"k":100000},{"t":8.960,"k":518000},
{"t":8.974,"k":517000},{"t":8.976,"k":250000},{"t":8.978,"k":519000},
{"t":8.992,"k":517000},{"t":8.994,"k":420000},{"t":8.996,"k":516000},
{"t":9.010,"k":518000},{"t":9.012,"k":80000},{"t":9.014,"k":517000},
{"t":9.028,"k":516000},{"t":9.030,"k":300000},{"t":9.032,"k":518000},
{"t":9.046,"k":517000},{"t":9.048,"k":100000},{"t":9.050,"k":519000},
{"t":9.064,"k":517000},{"t":9.066,"k":90000},{"t":9.068,"k":516000},
{"t":9.082,"k":518000},{"t":9.084,"k":250000},{"t":9.086,"k":517000},
{"t":9.100,"k":516000},{"t":9.102,"k":400000},{"t":9.104,"k":518000},
{"t":9.118,"k":517000},{"t":9.120,"k":90000},{"t":9.122,"k":519000},
{"t":9.136,"k":517000},{"t":9.138,"k":270000},{"t":9.140,"k":516000},
{"t":9.154,"k":518000},{"t":9.156,"k":150000},{"t":9.158,"k":517000},
{"t":9.172,"k":516000},{"t":9.174,"k":430000},{"t":9.176,"k":518000},
{"t":9.190,"k":517000},{"t":9.192,"k":245000},{"t":9.194,"k":519000},
{"t":9.208,"k":517000},{"t":9.210,"k":90000},{"t":9.212,"k":516000},
{"t":9.226,"k":518000},{"t":9.228,"k":440000},{"t":9.230,"k":517000},
{"t":9.244,"k":516000},{"t":9.246,"k":300000},{"t":9.248,"k":518000},
{"t":9.262,"k":517000},{"t":9.264,"k":420000},{"t":9.266,"k":519000},
{"t":9.280,"k":517000},{"t":9.282,"k":12000},{"t":9.284,"k":516000},
{"t":9.298,"k":518000},{"t":9.300,"k":300000},{"t":9.302,"k":517000},
{"t":9.316,"k":516000},{"t":9.318,"k":100000},{"t":9.320,"k":518000},
{"t":9.334,"k":517000},{"t":9.336,"k":60000},{"t":9.338,"k":519000},
{"t":9.352,"k":517000},{"t":9.354,"k":420000},{"t":9.356,"k":516000},
{"t":9.366,"k":518000},{"t":9.368,"k":250000},{"t":9.370,"k":517000},
{"t":9.376,"k":517000},{"t":9.380,"k":90000},{"t":9.478,"k":723000},{"t":9.495,"k":723000},{"t":9.497,"k":48000},{"t":9.502,"k":607000},{"t":9.505,"k":312000},{"t":9.510,"k":517000},
{"t":9.520,"k":516000},{"t":9.522,"k":140000},{"t":9.524,"k":515000},
{"t":9.543,"k":517000},{"t":9.545,"k":8000},{"t":9.547,"k":516000},
{"t":9.566,"k":515000},{"t":9.568,"k":290000},{"t":9.570,"k":517000},
{"t":9.589,"k":516000},{"t":9.591,"k":10000},{"t":9.593,"k":515000},
{"t":9.612,"k":517000},{"t":9.614,"k":215000},{"t":9.616,"k":516000},
{"t":9.635,"k":515000},{"t":9.637,"k":40000},{"t":9.639,"k":517000},
{"t":9.658,"k":516000},{"t":9.660,"k":400000},{"t":9.662,"k":515000},
{"t":9.681,"k":517000},{"t":9.683,"k":150000},{"t":9.685,"k":516000},
{"t":9.704,"k":515000},{"t":9.706,"k":3000},{"t":9.708,"k":517000},
{"t":9.727,"k":516000},{"t":9.729,"k":200000},{"t":9.731,"k":515000},
{"t":9.743,"k":517000},{"t":9.745,"k":120000},{"t":9.747,"k":516000},
{"t":9.760,"k":516000},{"t":9.763,"k":548000},{"t":9.765,"k":73000},{"t":9.770,"k":516000},
{"t":9.783,"k":515000},{"t":9.785,"k":5000},{"t":9.787,"k":517000},
{"t":9.806,"k":516000},{"t":9.808,"k":230000},{"t":9.810,"k":515000},
{"t":9.829,"k":517000},{"t":9.831,"k":160000},{"t":9.833,"k":516000},
{"t":9.852,"k":515000},{"t":9.854,"k":12000},{"t":9.856,"k":517000},
{"t":9.875,"k":516000},{"t":9.877,"k":230000},{"t":9.879,"k":515000},
{"t":9.898,"k":517000},{"t":9.900,"k":40000},{"t":9.902,"k":516000},
{"t":9.921,"k":515000},{"t":9.923,"k":210000},{"t":9.925,"k":517000},
{"t":9.944,"k":516000},{"t":9.946,"k":20000},{"t":9.948,"k":515000},
{"t":9.967,"k":517000},{"t":9.969,"k":410000},{"t":9.971,"k":516000},
{"t":9.990,"k":515000},{"t":9.992,"k":170000},{"t":9.994,"k":517000},
{"t":10.013,"k":516000},{"t":10.015,"k":40000},{"t":10.017,"k":515000},
{"t":10.036,"k":517000},{"t":10.038,"k":300000},{"t":10.040,"k":516000},
{"t":10.059,"k":515000},{"t":10.061,"k":240000},{"t":10.063,"k":517000},
{"t":10.082,"k":516000},{"t":10.084,"k":10000},{"t":10.086,"k":515000},
{"t":10.105,"k":517000},{"t":10.107,"k":480000},{"t":10.109,"k":516000},
{"t":10.128,"k":515000},{"t":10.130,"k":310000},{"t":10.132,"k":517000},
{"t":10.151,"k":516000},{"t":10.153,"k":10000},{"t":10.155,"k":515000},
{"t":10.174,"k":517000},{"t":10.176,"k":420000},{"t":10.178,"k":516000},
{"t":10.197,"k":515000},{"t":10.199,"k":250000},{"t":10.201,"k":517000},
{"t":10.220,"k":516000},{"t":10.222,"k":20000},{"t":10.224,"k":515000},
{"t":10.243,"k":517000},{"t":10.245,"k":460000},{"t":10.247,"k":516000},
{"t":10.266,"k":515000},{"t":10.268,"k":220000},{"t":10.270,"k":517000},
{"t":10.289,"k":516000},{"t":10.291,"k":60000},{"t":10.293,"k":515000},
{"t":10.312,"k":517000},{"t":10.314,"k":330000},{"t":10.316,"k":516000},
{"t":10.335,"k":515000},{"t":10.337,"k":45000},{"t":10.339,"k":517000},
{"t":10.358,"k":516000},{"t":10.360,"k":140000},{"t":10.362,"k":515000},
{"t":10.381,"k":517000},{"t":10.383,"k":420000},{"t":10.385,"k":516000},
{"t":10.403,"k":515000},{"t":10.405,"k":90000},{"t":10.407,"k":517000},
{"t":10.418,"k":516000},{"t":10.421,"k":65000},{"t":10.530,"k":713000},{"t":10.567,"k":717000},{"t":10.569,"k":7500},{"t":10.573,"k":605000},{"t":10.576,"k":45000},{"t":10.580,"k":645000},{"t":10.583,"k":165000},{"t":10.589,"k":515000},
{"t":10.598,"k":516000},{"t":10.600,"k":100000},{"t":10.602,"k":515000},
{"t":10.618,"k":514000},{"t":10.620,"k":42000},{"t":10.622,"k":516000},
{"t":10.640,"k":515000},{"t":10.642,"k":5000},{"t":10.644,"k":514000},
{"t":10.662,"k":516000},{"t":10.664,"k":110000},{"t":10.666,"k":515000},
{"t":10.684,"k":514000},{"t":10.686,"k":140000},{"t":10.688,"k":516000},
{"t":10.706,"k":515000},{"t":10.708,"k":45000},{"t":10.710,"k":514000},
{"t":10.728,"k":516000},{"t":10.730,"k":5000},{"t":10.732,"k":515000},
{"t":10.750,"k":514000},{"t":10.752,"k":50000},{"t":10.754,"k":516000},
{"t":10.772,"k":515000},{"t":10.774,"k":300000},{"t":10.776,"k":514000},
{"t":10.794,"k":516000},{"t":10.796,"k":200000},{"t":10.798,"k":515000},
{"t":10.816,"k":514000},{"t":10.818,"k":180000},{"t":10.820,"k":516000},
{"t":10.838,"k":515000},{"t":10.840,"k":60000},{"t":10.842,"k":514000},
{"t":10.860,"k":516000},{"t":10.862,"k":120000},{"t":10.864,"k":515000},
{"t":10.882,"k":514000},{"t":10.884,"k":160000},{"t":10.886,"k":516000},
{"t":10.904,"k":515000},{"t":10.906,"k":95000},{"t":10.908,"k":514000},
{"t":10.926,"k":516000},{"t":10.928,"k":8000},{"t":10.930,"k":515000},
{"t":10.948,"k":514000},{"t":10.950,"k":470000},{"t":10.952,"k":516000},
{"t":10.970,"k":515000},{"t":10.972,"k":70000},{"t":10.974,"k":514000},
{"t":10.992,"k":516000},{"t":10.994,"k":210000},{"t":10.996,"k":515000},
{"t":11.014,"k":514000},{"t":11.016,"k":120000},{"t":11.018,"k":516000},
{"t":11.036,"k":515000},{"t":11.038,"k":260000},{"t":11.040,"k":514000},
{"t":11.053,"k":516000},{"t":11.055,"k":150000},{"t":11.057,"k":515000},
{"t":11.066,"k":515000},{"t":11.069,"k":548000},{"t":11.085,"k":518000},{"t":11.090,"k":515000},
{"t":11.100,"k":514000},{"t":11.102,"k":85000},{"t":11.104,"k":516000},
{"t":11.122,"k":515000},{"t":11.124,"k":5000},{"t":11.126,"k":514000},
{"t":11.144,"k":516000},{"t":11.146,"k":320000},{"t":11.148,"k":515000},
{"t":11.166,"k":514000},{"t":11.168,"k":240000},{"t":11.170,"k":516000},
{"t":11.188,"k":515000},{"t":11.190,"k":100000},{"t":11.192,"k":514000},
{"t":11.210,"k":516000},{"t":11.212,"k":470000},{"t":11.214,"k":515000},
{"t":11.232,"k":514000},{"t":11.234,"k":420000},{"t":11.236,"k":516000},
{"t":11.254,"k":515000},{"t":11.256,"k":55000},{"t":11.258,"k":514000},
{"t":11.276,"k":516000},{"t":11.278,"k":10000},{"t":11.280,"k":515000},
{"t":11.298,"k":514000},{"t":11.300,"k":100000},{"t":11.302,"k":516000},
{"t":11.320,"k":515000},{"t":11.322,"k":430000},{"t":11.324,"k":514000},
{"t":11.342,"k":516000},{"t":11.344,"k":70000},{"t":11.346,"k":515000},
{"t":11.364,"k":514000},{"t":11.366,"k":300000},{"t":11.368,"k":516000},
{"t":11.386,"k":515000},{"t":11.388,"k":5000},{"t":11.390,"k":514000},
{"t":11.408,"k":516000},{"t":11.410,"k":380000},{"t":11.412,"k":515000},
{"t":11.430,"k":514000},{"t":11.432,"k":135000},{"t":11.434,"k":516000},
{"t":11.446,"k":515000},{"t":11.448,"k":128000},{"t":11.592,"k":695000},{"t":11.630,"k":695000}
]},
"mark": {"type": "line", "color": "#1f77b4", "strokeWidth": 2, "clip": true},
"encoding": {
  "x": {"field": "t", "type": "quantitative", "sort": null, "scale": {"domain": [-0.632, 12.2], "nice": false, "zero": false}, "axis": {"title": "Elapsed minutes", "values": [0, 2, 4, 6, 8, 10, 12], "format": "d", "labelAngle": -90, "labelPadding": 7, "titlePadding": 2}},
  "y": {"field": "k", "type": "quantitative", "scale": {"domain": [-37900, 796000], "nice": false, "zero": false}, "axis": {"title": "Number of keys", "values": [0, 100000, 200000, 300000, 400000, 500000, 600000, 700000], "format": "d", "labelPadding": 5, "titlePadding": 9}}
}
}
